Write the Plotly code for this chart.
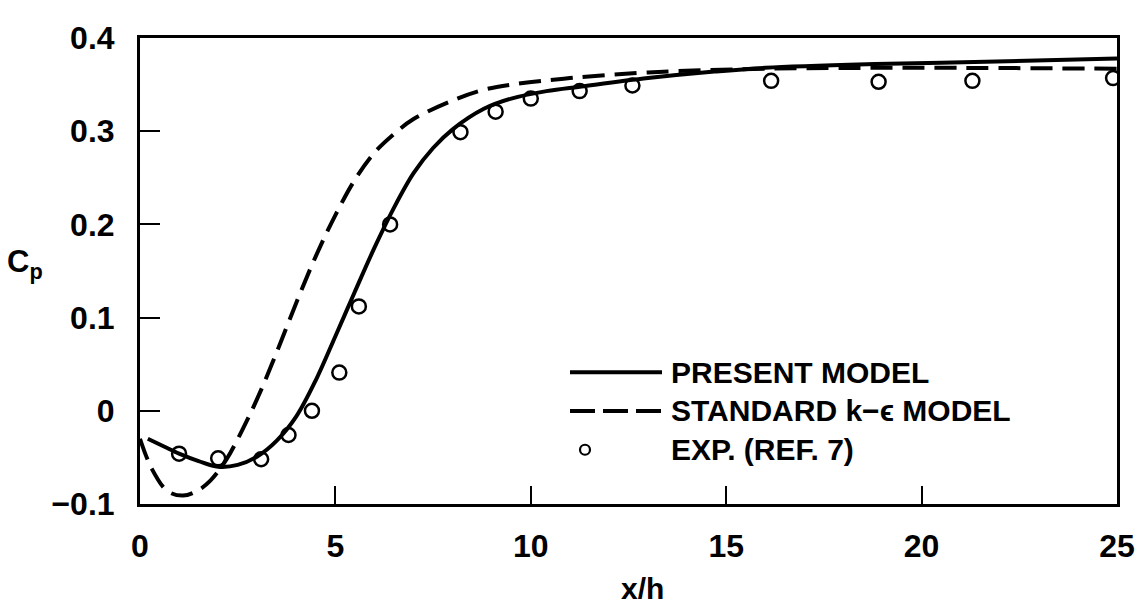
import plotly.graph_objects as go

# ---- data ----
present_x = [0.2, 0.6, 1.0, 1.5, 2.0, 2.5, 3.0, 3.5, 4.0, 4.5, 5.0, 5.5, 6.0, 6.5, 7.0, 7.5,
             8.0, 8.8, 9.5, 10.4, 11.3, 13.0, 14.7, 16.0, 18.8, 22.2, 25.0]
present_y = [-0.030, -0.038, -0.046, -0.054, -0.060, -0.058, -0.049, -0.032, -0.006, 0.033,
             0.080, 0.128, 0.175, 0.218, 0.255, 0.282, 0.302, 0.324, 0.335, 0.343, 0.348,
             0.357, 0.364, 0.368, 0.372, 0.375, 0.378]

standard_x = [0.0, 0.3, 0.7, 1.1, 1.5, 1.8, 2.2, 2.6, 3.0, 3.5, 4.0, 4.5, 5.0, 5.5, 6.0, 6.5,
              7.0, 8.0, 8.75, 9.5, 11.0, 13.0, 16.0, 20.0, 25.0]
standard_y = [-0.030, -0.062, -0.086, -0.091, -0.085, -0.075, -0.053, -0.022, 0.013, 0.063,
              0.116, 0.166, 0.210, 0.248, 0.277, 0.297, 0.313, 0.333, 0.344, 0.350, 0.357,
              0.363, 0.367, 0.368, 0.367]

exp_x = [1.0, 2.0, 3.1, 3.8, 4.4, 5.1, 5.6, 6.4, 8.2, 9.1, 10.0, 11.25, 12.6, 16.15, 18.9, 21.3, 24.9]
exp_y = [-0.046, -0.051, -0.052, -0.026, 0.0, 0.041, 0.112, 0.200, 0.299, 0.321, 0.335, 0.343,
         0.349, 0.354, 0.353, 0.354, 0.357]

x_ticks = [0, 5, 10, 15, 20, 25]
y_ticks = [-0.1, 0, 0.1, 0.2, 0.3, 0.4]
y_tick_text = ["\u22120.1", "0", "0.1", "0.2", "0.3", "0.4"]

legend_labels = ["PRESENT MODEL", "STANDARD k\u2212\u03f5 MODEL", "EXP. (REF. 7)"]

FONT = "Liberation Sans"

# page offset (browser body margin)
OFF = 8
W, H = 1148 - OFF, 609 - OFF
L, T, PW, PH = 140 - OFF, 23 - OFF, 977, 481

fig = go.Figure()
fig.add_trace(go.Scatter(x=present_x, y=present_y, mode="lines", line_shape="spline",
                         line=dict(color="black", width=4), name=legend_labels[0],
                         showlegend=False))
fig.add_trace(go.Scatter(x=standard_x, y=standard_y, mode="lines", line_shape="spline",
                         line=dict(color="black", width=4, dash="22px,10px"),
                         name=legend_labels[1], showlegend=False))
fig.add_trace(go.Scatter(x=exp_x, y=exp_y, mode="markers",
                         marker=dict(symbol="circle-open", size=14, color="black",
                                     line=dict(width=2.5, color="black")),
                         name=legend_labels[2], showlegend=False))

# ---- hand-laid legend (reference image pixel positions) ----
def px(xp):
    return (xp - OFF - L) / PW
def py(yp):
    return (T + PH - (yp - OFF)) / PH

rows = [368, 408, 448]
fig.add_shape(type="line", xref="paper", yref="paper", x0=px(570), x1=px(662),
              y0=py(rows[0]), y1=py(rows[0]), line=dict(color="black", width=4))
fig.add_shape(type="line", xref="paper", yref="paper", x0=px(570), x1=px(662),
              y0=py(rows[1]), y1=py(rows[1]), line=dict(color="black", width=4, dash="25px,8px"))
fig.add_shape(type="circle", xref="paper", yref="paper", xsizemode="pixel", ysizemode="pixel",
              xanchor=px(585), yanchor=py(rows[2]), x0=-5, x1=5, y0=-5, y1=5,
              line=dict(color="black", width=2.2))
for lab, r in zip(legend_labels, rows):
    fig.add_annotation(text=lab, xref="paper", yref="paper", x=px(669), y=py(r),
                       xanchor="left", yanchor="middle", showarrow=False,
                       font=dict(family=FONT, size=30, color="black", weight="bold"))

# axis titles
fig.add_annotation(text="x/h", xref="paper", yref="paper", x=px(642), y=py(591),
                   xanchor="center", yanchor="middle", showarrow=False,
                   font=dict(family=FONT, size=30, color="black", weight="bold"))
fig.add_annotation(text="C<sub>p</sub>", xref="paper", yref="paper", x=px(5), y=py(256),
                   xanchor="left", yanchor="middle", showarrow=False,
                   font=dict(family=FONT, size=31, color="black", weight="bold"))

fig.update_xaxes(range=[0, 25], tickvals=x_ticks, ticktext=[str(v) for v in x_ticks],
                 showgrid=False, zeroline=False, showline=True, linecolor="black", linewidth=3,
                 mirror=True, ticks="inside", ticklen=18, tickwidth=2, tickcolor="black",
                 ticklabelstandoff=12, ticklabeloverflow="allow",
                 tickfont=dict(family=FONT, size=32, color="black", weight="bold"))
fig.update_yaxes(range=[-0.1, 0.4], tickvals=y_ticks, ticktext=y_tick_text,
                 showgrid=False, zeroline=False, showline=True, linecolor="black", linewidth=3,
                 mirror=True, ticks="inside", ticklen=20, tickwidth=2, tickcolor="black",
                 ticklabelstandoff=16, ticklabeloverflow="allow",
                 tickfont=dict(family=FONT, size=32, color="black", weight="bold"))

fig.update_layout(width=W, height=H, margin=dict(l=L, r=W - L - PW, t=T, b=H - T - PH),
                  plot_bgcolor="white", paper_bgcolor="white", showlegend=False)

fig.write_html("out.html")
